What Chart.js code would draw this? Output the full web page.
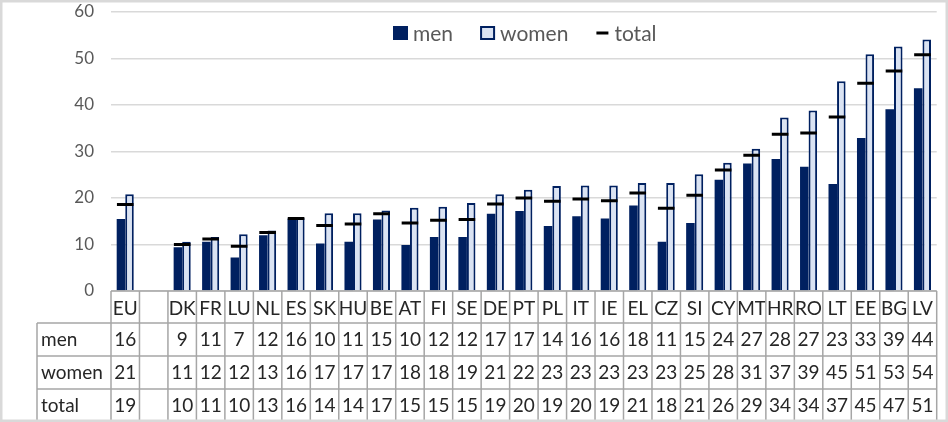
<!DOCTYPE html>
<html><head><meta charset="utf-8">
<script src="https://cdn.jsdelivr.net/npm/chart.js@4"></script>
<style>html,body{margin:0;padding:0;background:#fff}#wrap{width:948px;height:422px;position:relative}</style>
</head><body><div id="wrap"><canvas id="c" width="948" height="422"></canvas></div>
<script>
const categories = ['EU','','DK','FR','LU','NL','ES','SK','HU','BE','AT','FI','SE','DE','PT','PL','IT','IE','EL','CZ','SI','CY','MT','HR','RO','LT','EE','BG','LV'];
const men   = [15.5,null,9.4,10.6,7.2,12.0,15.6,10.2,10.6,15.4,9.9,11.6,11.6,16.6,17.2,14.0,16.1,15.6,18.4,10.6,14.6,23.9,27.4,28.4,26.7,23.0,32.9,39.1,43.6];
const women = [20.8,null,10.6,11.6,12.2,13.0,15.7,16.7,16.7,17.3,17.9,18.1,18.9,20.8,21.8,22.6,22.7,22.7,23.2,23.2,25.1,27.6,30.6,37.3,38.8,45.1,50.9,52.6,54.1];
const total = [18.6,null,10.0,11.2,9.6,12.6,15.6,14.1,14.4,16.6,14.6,15.2,15.4,18.7,20.0,19.3,19.8,19.4,21.1,17.8,20.6,26.0,29.2,33.7,34.0,37.4,44.7,47.3,50.8];
const seriesNames = ['men','women','total'];
const yTicks = [0,10,20,30,40,50,60];

const NAVY = '#002060', LIGHT = '#dae3f3', GRID = '#d9d9d9', TXT = '#595959', TABLE_TXT = '#262626', TABLE_LINE = '#a6a6a6';
const FONT = 'Lato, "Open Sans", sans-serif';

const tablePlugin = {
  id: 'dataTable',
  afterDraw(chart) {
    const ctx = chart.ctx, xs = chart.scales.x, area = chart.chartArea;
    const n = categories.length;
    const colW = (area.right - area.left) / n;
    const top = area.bottom;
    const headerH = 32, rowH = 33, labelLeft = 37;
    const rows = [men, women, total];
    ctx.save();
    ctx.strokeStyle = TABLE_LINE;
    ctx.lineWidth = 1.5;
    ctx.beginPath();
    ctx.moveTo(area.left, top); ctx.lineTo(area.right, top);
    for (let r = 0; r <= rows.length; r++) {
      const y = top + headerH + r * rowH;
      ctx.moveTo(labelLeft, y); ctx.lineTo(area.right, y);
    }
    const bottom = top + headerH + rows.length * rowH;
    for (let i = 0; i <= n; i++) {
      const x = xs.getPixelForValue(Math.min(i, n - 1)) + (i === n ? colW / 2 : -colW / 2);
      ctx.moveTo(x, top); ctx.lineTo(x, bottom);
    }
    ctx.moveTo(labelLeft, top + headerH); ctx.lineTo(labelLeft, bottom);
    ctx.stroke();
    ctx.fillStyle = TABLE_TXT;
    ctx.font = '19px ' + FONT;
    ctx.textBaseline = 'middle';
    rows.forEach((vals, r) => {
      const cy = top + headerH + r * rowH + rowH / 2;
      ctx.textAlign = 'left';
      ctx.fillText(seriesNames[r], labelLeft + 4, cy);
      ctx.textAlign = 'center';
      vals.forEach((v, i) => {
        if (v === null) return;
        ctx.fillText(String(Math.round(v)), xs.getPixelForValue(i), cy);
      });
    });
    ctx.restore();
  }
};

const legendPlugin = {
  id: 'innerLegend',
  afterDraw(chart) {
    const ctx = chart.ctx;
    ctx.save();
    ctx.font = '21px ' + FONT;
    ctx.textBaseline = 'middle';
    ctx.textAlign = 'left';
    const cy = 33;
    let x = 393;
    chart.data.datasets.forEach((ds) => {
      if (ds.type === 'line') {
        ctx.fillStyle = '#000';
        ctx.fillRect(x + 1, cy - 1.5, 12, 3);
        x += 19;
      } else {
        ctx.fillStyle = ds.backgroundColor;
        ctx.fillRect(x, cy - 7, 15, 14);
        if (ds.borderWidth) {
          ctx.strokeStyle = ds.borderColor; ctx.lineWidth = 2;
          ctx.strokeRect(x + 1, cy - 6, 13, 12);
        }
        x += 20;
      }
      ctx.fillStyle = TXT;
      ctx.fillText(ds.label, x, cy + 1);
      x += ctx.measureText(ds.label).width + 27;
    });
    ctx.restore();
  }
};

const borderPlugin = {
  id: 'outerBorder',
  afterDraw(chart) {
    const ctx = chart.ctx;
    ctx.save();
    ctx.strokeStyle = GRID; ctx.lineWidth = 2.5;
    ctx.strokeRect(1.25, 1.25, chart.width - 2.5, chart.height - 2.5);
    ctx.restore();
  }
};

new Chart(document.getElementById('c'), {
  type: 'bar',
  data: {
    labels: categories,
    datasets: [
      { label: seriesNames[0], data: men, backgroundColor: NAVY, borderWidth: 0,
        barPercentage: 1, categoryPercentage: 0.6, order: 1 },
      { label: seriesNames[1], data: women, backgroundColor: LIGHT, borderColor: NAVY, borderWidth: 2,
        barPercentage: 1, categoryPercentage: 0.6, order: 1 },
      { type: 'line', label: seriesNames[2], data: total, showLine: false, pointStyle: 'line',
        pointRadius: 8.3, pointHoverRadius: 8.3, pointBorderWidth: 3, pointHoverBorderWidth: 3,
        borderColor: '#000', backgroundColor: '#000', order: 0 }
    ]
  },
  options: {
    responsive: false, animation: false, devicePixelRatio: 1,
    layout: { padding: { top: 12, right: 8, left: 0, bottom: 0 } },
    plugins: { legend: { display: false }, tooltip: { enabled: false } },
    scales: {
      x: {
        grid: { display: false, drawTicks: false }, border: { display: false },
        ticks: { autoSkip: false, maxRotation: 0, minRotation: 0, padding: 6,
          color: TABLE_TXT, font: { family: FONT, size: 19 } },
        afterFit(s) { s.height = 131; s.paddingLeft = 0; s.paddingRight = 0; }
      },
      y: {
        min: 0, max: 60,
        afterBuildTicks(s) { s.ticks = yTicks.map(v => ({ value: v })); },
        grid: { color: GRID, lineWidth: 1.5, drawTicks: false }, border: { display: false },
        ticks: { padding: 17, color: TXT, font: { family: FONT, size: 17 } },
        afterFit(s) { s.width = 111; s.paddingTop = 0; s.paddingBottom = 0; }
      }
    }
  },
  plugins: [tablePlugin, legendPlugin, borderPlugin]
});
</script>
</body></html>
